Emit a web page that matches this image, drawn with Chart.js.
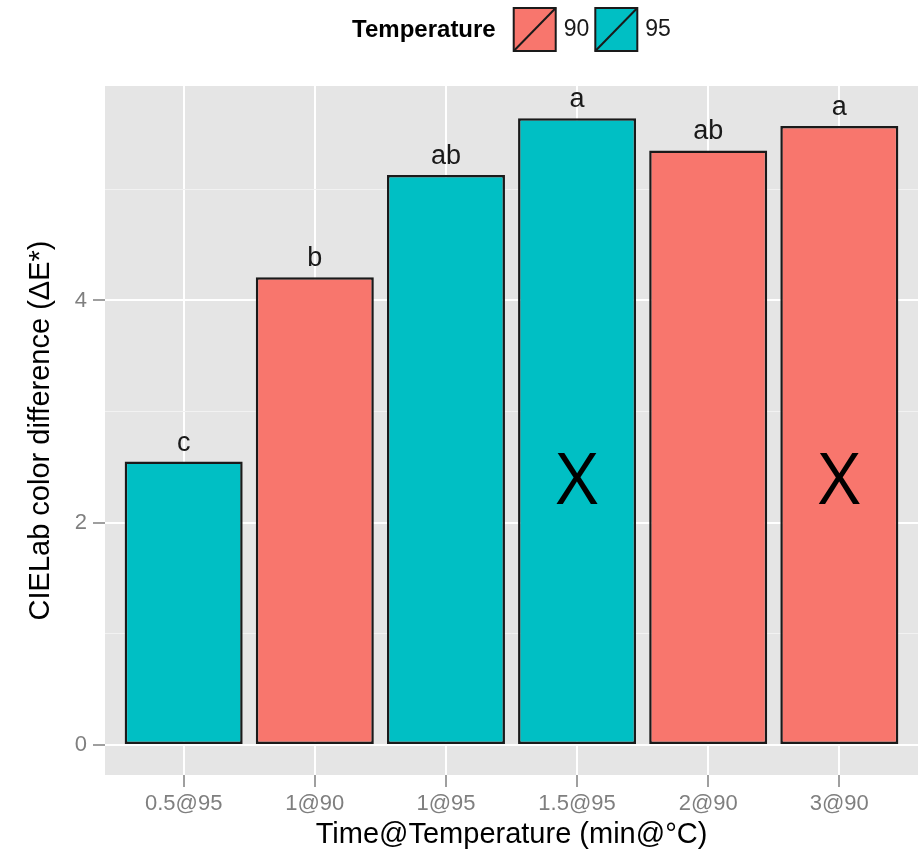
<!DOCTYPE html>
<html><head><meta charset="utf-8">
<script src="https://cdn.jsdelivr.net/npm/chart.js@4/dist/chart.umd.min.js"></script>
<style>html,body{margin:0;padding:0;background:#fff;}#wrap{width:919px;height:849px;}</style>
</head><body><div id="wrap"><canvas id="c" width="919" height="849"></canvas></div>
<script>
const categories = ['0.5@95', '1@90', '1@95', '1.5@95', '2@90', '3@90'];
const temperatures = ['95', '90', '95', '95', '90', '90'];
const colorDifference = [2.55, 4.21, 5.13, 5.64, 5.35, 5.57];
const groupLetters = ['c', 'b', 'ab', 'a', 'ab', 'a'];
const crossMarks = ['', '', '', 'X', '', 'X'];
const yMajorTicks = [0, 2, 4];
const yMinorTicks = [1, 3, 5];
const tempLevels = ['90', '95'];
const tempColors = ['#F8766D', '#00BFC4'];

const FONT = '"Liberation Sans", Arial, Helvetica, sans-serif';

const datasets = tempLevels.map((lvl, k) => ({
  label: lvl,
  data: categories.map((c, i) => temperatures[i] === lvl ? { x: i + 1, y: colorDifference[i] } : null).filter(Boolean),
  backgroundColor: tempColors[k],
  borderColor: '#1a1a1a',
  borderWidth: 2.5,
  borderSkipped: false,
  grouped: false,
  categoryPercentage: 1,
  barPercentage: 0.9
}));

const panelBg = {
  id: 'panelBg',
  beforeDraw(chart) {
    const { ctx, chartArea: a } = chart;
    ctx.save();
    ctx.fillStyle = '#e5e5e5';
    ctx.fillRect(a.left, a.top, a.right - a.left, a.bottom - a.top);
    ctx.restore();
  }
};

const barText = {
  id: 'barText',
  afterDatasetsDraw(chart) {
    const { ctx, scales: { x, y } } = chart;
    ctx.save();
    ctx.textAlign = 'center';
    ctx.textBaseline = 'alphabetic';
    ctx.fillStyle = '#1a1a1a';
    ctx.font = '27px ' + FONT;
    groupLetters.forEach((t, i) => {
      ctx.fillText(t, x.getPixelForValue(i + 1), y.getPixelForValue(colorDifference[i]) - 11);
    });
    ctx.fillStyle = '#000';
    ctx.font = '72px "Open Sans", "Noto Sans", sans-serif';
    crossMarks.forEach((t, i) => {
      if (t) ctx.fillText(t, x.getPixelForValue(i + 1), y.getPixelForValue(2.17));
    });
    ctx.restore();
  }
};

const ggLegend = {
  id: 'ggLegend',
  afterDraw(chart) {
    const { ctx, chartArea: a } = chart;
    ctx.save();
    const titleFont = 'bold 24px ' + FONT;
    const labFont = '23px ' + FONT;
    ctx.font = titleFont;
    const tw = ctx.measureText('Temperature').width;
    ctx.font = labFont;
    const lw = tempLevels.map(l => ctx.measureText(l).width);
    const box = 42, gapTitle = 18, gapLab = 8, gapItem = 6;
    let total = tw + gapTitle;
    lw.forEach((w, k) => { total += box + gapLab + w + (k < lw.length - 1 ? gapItem : 0); });
    let xPos = (a.left + a.right) / 2 - total / 2;
    const cy = 30;
    ctx.textBaseline = 'middle';
    ctx.textAlign = 'left';
    ctx.fillStyle = '#000';
    ctx.font = titleFont;
    ctx.fillText('Temperature', xPos, cy);
    xPos += tw + gapTitle;
    tempLevels.forEach((l, k) => {
      const bx = xPos, by = 8;
      ctx.fillStyle = tempColors[k];
      ctx.fillRect(bx, by, box, box + 1);
      ctx.strokeStyle = '#1a1a1a';
      ctx.lineWidth = 2;
      ctx.strokeRect(bx, by, box, box + 1);
      ctx.beginPath();
      ctx.moveTo(bx, by + box + 1);
      ctx.lineTo(bx + box, by);
      ctx.stroke();
      xPos += box + gapLab;
      ctx.fillStyle = '#1a1a1a';
      ctx.font = labFont;
      ctx.fillText(l, xPos, cy);
      xPos += lw[k] + gapItem;
    });
    ctx.restore();
  }
};

const isMinor = (ctx) => ctx.tick && yMinorTicks.includes(ctx.tick.value);

new Chart(document.getElementById('c'), {
  type: 'bar',
  data: { datasets },
  options: {
    responsive: false,
    animation: false,
    devicePixelRatio: 1,
    layout: { padding: { top: 86, right: 1, left: 0, bottom: 0 } },
    plugins: { legend: { display: false }, tooltip: { enabled: false } },
    scales: {
      x: {
        type: 'linear',
        position: 'bottom',
        min: 0.4,
        max: 6.6,
        offset: false,
        afterBuildTicks: s => { s.ticks = categories.map((c, i) => ({ value: i + 1 })); },
        afterFit: s => { s.height = 74; },
        ticks: {
          autoSkip: false,
          maxRotation: 0,
          padding: 4,
          color: '#7f7f7f',
          font: { family: FONT, size: 22 },
          callback: v => categories[v - 1] ?? ''
        },
        grid: { offset: false, color: '#ffffff', lineWidth: 2, tickColor: '#7f7f7f', tickLength: 12, tickWidth: 1.5 },
        border: { display: false },
        title: {
          display: true,
          text: 'Time@Temperature (min@°C)',
          color: '#000',
          font: { family: FONT, size: 29, lineHeight: 1 },
          padding: { top: 0, bottom: 0 }
        }
      },
      y: {
        type: 'linear',
        min: -0.27,
        max: 5.93,
        afterBuildTicks: s => { s.ticks = [0, 1, 2, 3, 4, 5].map(v => ({ value: v })); },
        afterFit: s => { s.width = 105; },
        ticks: {
          padding: 6,
          color: '#7f7f7f',
          font: { family: FONT, size: 22 },
          callback: v => yMajorTicks.includes(v) ? String(v) : ''
        },
        grid: {
          color: ctx => isMinor(ctx) ? '#f2f2f2' : '#ffffff',
          lineWidth: ctx => isMinor(ctx) ? 1 : 2,
          tickColor: ctx => isMinor(ctx) ? 'rgba(0,0,0,0)' : '#7f7f7f',
          tickLength: 12,
          tickWidth: 1.5
        },
        border: { display: false },
        title: {
          display: true,
          text: 'CIELab color difference (ΔE*)',
          color: '#000',
          font: { family: FONT, size: 29, lineHeight: 1 },
          padding: { top: 26, bottom: 0 }
        }
      }
    }
  },
  plugins: [panelBg, barText, ggLegend]
});
</script>
</body></html>
